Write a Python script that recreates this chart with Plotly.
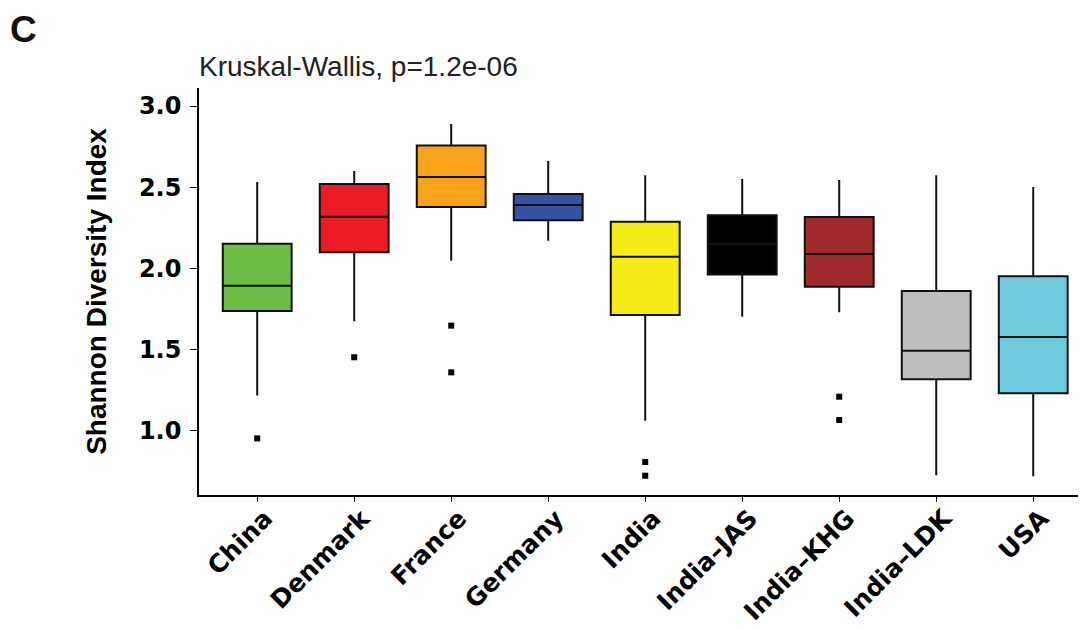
import plotly.graph_objects as go

categories = ["China", "Denmark", "France", "Germany", "India",
              "India\u2013JAS", "India\u2013KHG", "India\u2013LDK", "USA"]
lower_whisker = [1.216, 1.673, 2.046, 2.170, 1.060, 1.701, 1.728, 0.723, 0.717]
q1_vals       = [1.736, 2.098, 2.377, 2.295, 1.711, 1.962, 1.886, 1.315, 1.229]
median_vals   = [1.892, 2.318, 2.562, 2.390, 2.071, 2.150, 2.088, 1.491, 1.576]
q3_vals       = [2.151, 2.519, 2.757, 2.457, 2.287, 2.326, 2.316, 1.859, 1.950]
upper_whisker = [2.531, 2.599, 2.889, 2.661, 2.573, 2.550, 2.544, 2.573, 2.501]
colors = ["#6CBE45", "#ED1C24", "#F7A21B", "#3953A4", "#F5EB17",
          "#000000", "#A0292B", "#BEBEBE", "#6EC9DB"]

outlier_cat = ["China", "Denmark", "France", "France", "India", "India",
               "India\u2013KHG", "India\u2013KHG"]
outlier_val = [0.951, 1.451, 1.646, 1.358, 0.805, 0.721, 1.208, 1.064]

y_ticks = [1.0, 1.5, 2.0, 2.5, 3.0]
y_tick_labels = ["1.0", "1.5", "2.0", "2.5", "3.0"]

fig = go.Figure()
for i, c in enumerate(categories):
    fig.add_trace(go.Box(
        x=[c], q1=[q1_vals[i]], median=[median_vals[i]], q3=[q3_vals[i]],
        lowerfence=[lower_whisker[i]], upperfence=[upper_whisker[i]],
        fillcolor=colors[i], line=dict(color="#111111", width=2),
        whiskerwidth=0, width=0.71, showlegend=False, boxpoints=False,
    ))

fig.add_trace(go.Scatter(
    x=outlier_cat, y=outlier_val, mode="markers",
    marker=dict(symbol="square", size=6, color="black"),
    showlegend=False,
))

# the page body has an 8px margin, so the figure is sized to 1078x622
fig.update_layout(
    width=1078, height=622,
    margin=dict(l=191, r=0, t=80, b=135),
    plot_bgcolor="white", paper_bgcolor="white",
    xaxis=dict(
        categoryorder="array", categoryarray=categories, automargin=False,
        range=[-0.6, 8.544], showline=True, linecolor="black", linewidth=1.6,
        ticks="outside", ticklen=5, tickwidth=1.3, tickcolor="black",
        tickangle=-45, showgrid=False, zeroline=False,
        ticklabelstandoff=-8, ticklabelshift=8,
        tickfont=dict(family="DejaVu Sans", size=25, color="black", weight="bold"),
    ),
    yaxis=dict(
        range=[0.602, 3.111], showline=True, linecolor="black", linewidth=1.6,
        automargin=True,
        tickvals=y_ticks, ticktext=y_tick_labels,
        ticks="outside", ticklen=7, tickwidth=1.3, tickcolor="black",
        ticklabelstandoff=4,
        showgrid=False, zeroline=False,
        tickfont=dict(family="DejaVu Sans", size=24, color="black", weight="bold"),
        title=dict(text="Shannon Diversity Index", standoff=24,
                   font=dict(family="Liberation Sans", size=28, color="black", weight="bold")),
    ),
    annotations=[
        dict(text="<b>C</b>", xref="paper", yref="paper", x=-0.215, y=1.2,
             xanchor="left", yanchor="top", showarrow=False,
             font=dict(family="Liberation Sans", size=37, color="#111111")),
        dict(text="Kruskal-Wallis, p=1.2e-06", xref="paper", yref="paper",
             x=0.0, y=1.01, xanchor="left", yanchor="bottom", showarrow=False,
             xshift=-2,
             font=dict(family="Liberation Sans", size=28, color="#222222")),
    ],
)

fig.write_html("out.html")
